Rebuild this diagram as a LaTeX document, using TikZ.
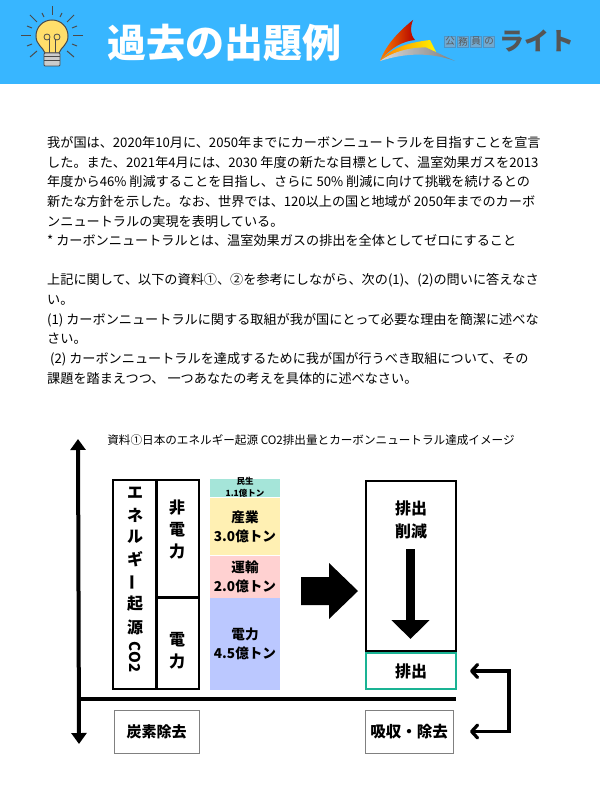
\documentclass[tikz,border=0pt]{standalone}
\usepackage{fontspec}
\setmainfont{Noto Sans CJK JP}
\usetikzlibrary{positioning, calc, arrows.meta}

\definecolor{headerblue}{HTML}{38B6FF}
\definecolor{tealband}{HTML}{A5E5D9}
\definecolor{yellowband}{HTML}{FFF0B3}
\definecolor{pinkband}{HTML}{FFD1D1}
\definecolor{blueband}{HTML}{BBC8FF}
\definecolor{emitgreen}{HTML}{1AB394}
\definecolor{logogray}{HTML}{555555}
\definecolor{logoblue}{HTML}{4E93C4}
\definecolor{bulbyellow}{HTML}{FFDE6B}
\definecolor{bulbline}{HTML}{4A4A4A}

\tikzset{
    box/.style={draw, line width=1.5pt, inner sep=0pt, outer sep=0pt, align=center},
    band/.style={inner sep=0pt, outer sep=0pt, minimum width=70pt, align=center, font=\bfseries\fontsize{13.6}{19}\selectfont},
    lightbox/.style={draw=gray, line width=1pt, inner sep=0pt, outer sep=0pt, minimum height=43pt, align=center},
    boxlabel/.style={inner sep=0pt, align=center, font=\bfseries\fontsize{16}{22}\selectfont},
    bodytext/.style={anchor=north west, inner sep=0pt, align=left, font=\fontsize{13.15}{19.7}\selectfont},
    ray/.style={line width=1pt, draw=bulbline}
}

\begin{document}
\begin{tikzpicture}[x=1pt, y=-1pt]

    \useasboundingbox (0,0) rectangle (600,800);

    % Header
    \fill[headerblue] (0,0) rectangle (600,84);
    \node[text=white, inner sep=0pt, font=\bfseries\fontsize{39}{39}\selectfont] (title) at (224,43) {過去の出題例};

    % Bulb
    \foreach \xa/\ya/\xb/\yb in {52/6/52/15, 21/36/31/36, 83/36/73/36, 30/15/37/22, 74/15/67/22, 30/57/37/51, 74/57/67/51,
        42/13/44/17, 62/13/60/17, 27/26/32/28, 77/26/72/28, 27/46/32/44, 77/46/72/44}
    \draw[ray] (\xa,\ya) -- (\xb,\yb);
    \draw[line width=1pt, draw=bulbline, fill=bulbyellow] (45,53) .. controls (43,47) and (36,45) .. (36,36) .. controls (36,27) and (43,20) .. (52,20) .. controls (61,20) and (68,27) .. (68,36) .. controls (68,45) and (61,47) .. (59,53) -- cycle;
    \draw[line width=.8pt, draw=bulbline] (47,37) circle[radius=3] (57,37) circle[radius=3];
    \draw[line width=.8pt, draw=bulbline] (49,39) -- (49,53) (55,39) -- (55,53);
    \draw[line width=.8pt, draw=bulbline, fill=black!20, rounded corners=1pt] (44,53) rectangle (60,66);
    \foreach \y in {57,61}
    \draw[line width=1pt, draw=bulbline] (44,\y) -- (60,\y);

    % Logo
    \shade[left color=orange, right color=red!70!black] (413,20) .. controls (410,28) and (410,34) .. (415,40) .. controls (403,41) and (390,48) .. (380,61) .. controls (386,45) and (398,32) .. (413,20) -- cycle;
    \shade[left color=orange, right color=yellow!90!orange] (380,61) .. controls (390,49) and (405,43) .. (430,40) -- (436,52) .. controls (420,47) and (395,50) .. (380,61) -- cycle;
    \shade[left color=black!15, right color=black!50] (380,61) .. controls (395,50) and (415,47) .. (426,47.5) -- (455,61) .. controls (430,52) and (405,53) .. (380,61) -- cycle;
    \foreach \ch [count=\i] in {公,務,員,の}
    \node[draw=logoblue, fill=logoblue!80, minimum size=11pt, inner sep=0pt, text=black!65, font=\fontsize{9.5}{9.5}\selectfont] (logo\i) at ({437+\i*13},41.5) {\ch};
    \node[text=logogray, inner sep=0pt, font=\bfseries\fontsize{25}{25}\selectfont] (logoname) at (537,41) {ライト};

    % Question text
    \node[bodytext] (para1) at (47,136) {我が国は、2020年10月に、2050年までにカーボンニュートラルを目指すことを宣言\\
        した。また、2021年4月には、2030 年度の新たな目標として、温室効果ガスを2013\\
        年度から46\% 削減することを目指し、さらに 50\% 削減に向けて挑戦を続けるとの\\
        新たな方針を示した。なお、世界では、120以上の国と地域が 2050年までのカーボ\\
        ンニュートラルの実現を表明している。\\
        * カーボンニュートラルとは、温室効果ガスの排出を全体としてゼロにすること};
    \node[bodytext, font=\fontsize{13.15}{19.8}\selectfont] (para2) at (47,273) {上記に関して、以下の資料①、②を参考にしながら、次の(1)、(2)の問いに答えなさ\\
        い。\\
        (1) カーボンニュートラルに関する取組が我が国にとって必要な理由を簡潔に述べな\\
        さい。\\
        \ (2) カーボンニュートラルを達成するために我が国が行うべき取組について、その\\
        課題を踏まえつつ、 一つあなたの考えを具体的に述べなさい。};

    % Caption
    \node[inner sep=0pt, font=\fontsize{11.6}{11.6}\selectfont] (caption) at (311,440) {資料①日本のエネルギー起源 CO2排出量とカーボンニュートラル達成イメージ};

    % Axis
    \coordinate (axistop) at (78,439);
    \coordinate (axisbottom) at (79,744);
    \draw[line width=4pt, {Triangle[width=15pt,length=11pt]}-{Triangle[width=15pt,length=11pt]}] (axistop) -- (axisbottom);

    % Left boxes
    \node[box, minimum width=43pt, minimum height=209pt] (energy) at (134.5,584.5) {};
    \foreach \ch/\y [count=\i] in {エ/493,ネ/515,ル/537,ギ/559,\rotatebox{90}{ー}/582,起/604,源/627}
    \node[inner sep=0pt, font=\bfseries\fontsize{16}{16}\selectfont] (energy\i) at (135,\y) {\ch};
    \node[inner sep=0pt, rotate=-90, font=\bfseries\fontsize{15}{15}\selectfont] (energyco) at (135,657) {CO2};
    \node[box, minimum width=42pt, minimum height=117pt] (nonpower) at (178,538.5) {};
    \node[boxlabel] at (177,530) (nonpowerlabel) {非\\電\\力};
    \node[box, minimum width=42pt, minimum height=92pt] (power) at (178,643) {};
    \node[boxlabel] at (177,651) (powerlabel) {電\\力};
    \draw[line width=3pt] (nonpower.south west) -- (nonpower.south east);

    % Stacked bands
    \node[band, fill=tealband, minimum height=18pt] (homes) at (245,488) {};
    \node[inner sep=0pt, align=center, font=\bfseries\fontsize{8.5}{12}\selectfont] (homeslabel) at (245,487) {民生\\1.1億トン};
    \node[band, fill=yellowband, minimum height=57pt, below=1pt of homes] (industry) {産業\\3.0億トン};
    \node[band, fill=pinkband, minimum height=42pt, below=1pt of industry] (transport) {運輸\\2.0億トン};
    \node[band, fill=blueband, minimum height=92pt, below=0pt of transport] (electric) {電力\\4.5億トン};

    % Block arrow
    \fill (301,577) -- (329,577) -- (329,563) -- (358,591) -- (329,619) -- (329,605) -- (301,605) -- cycle;

    % Right boxes
    \node[box, line width=2pt, minimum width=90pt, minimum height=170pt] (cut) at (411,566) {};
    \node[boxlabel, font=\bfseries\fontsize{16}{23.5}\selectfont] (cutlabel) at (411,520) {排出\\削減};
    \coordinate (cutstart) at (410.5,549);
    \coordinate (cutend) at (410.5,639);
    \draw[line width=9pt, -{Triangle[width=37pt,length=19pt]}] (cutstart) -- (cutend);
    \node[box, line width=2pt, draw=emitgreen, minimum width=90pt, minimum height=36pt, font=\bfseries\fontsize{16}{16}\selectfont] (emit) at (411,671) {排出};

    % Baseline
    \coordinate (basestart) at (81,699);
    \draw[line width=3.5pt] (basestart) -- (basestart -| emit.east);

    % Bottom boxes
    \node[lightbox, minimum width=85pt, font=\bfseries\fontsize{15}{15}\selectfont] (carbon) at (156.5,731.5) {炭素除去};
    \node[lightbox, minimum width=88pt, font=\bfseries\fontsize{15.5}{15.5}\selectfont] (removal) at (409,731.5) {吸収・除去};

    % Bracket
    \coordinate (turn) at (509,700);
    \draw[line width=3.2pt, {Straight Barb[length=6pt,width=13pt,round]}-{Straight Barb[length=6pt,width=13pt,round]}, shorten <=14pt, shorten >=17pt] (emit.east) -- (emit.east -| turn) -- (removal.east -| turn) -- (removal.east);

\end{tikzpicture}
\end{document}
